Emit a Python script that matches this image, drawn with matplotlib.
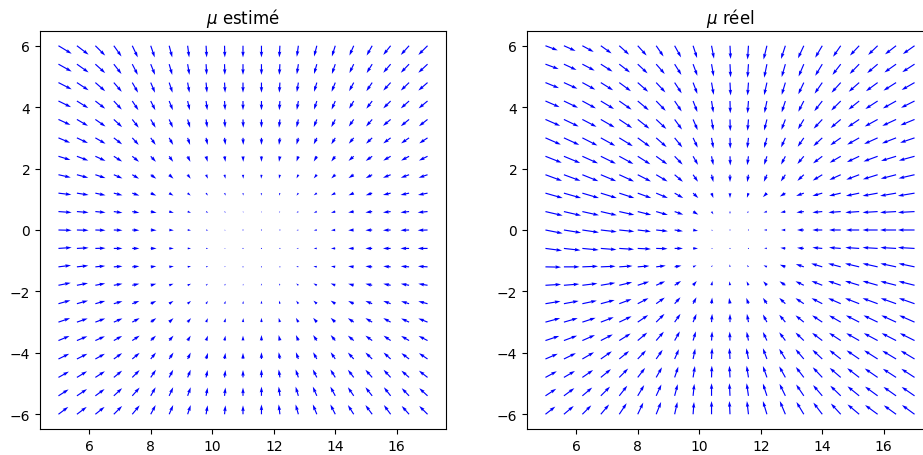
import numpy as np
import matplotlib.pyplot as plt

# grid of arrow positions
x_vals = [5.0, 5.6, 6.2, 6.8, 7.4, 8.0, 8.6, 9.2, 9.8, 10.4, 11.0,
          11.6, 12.2, 12.8, 13.4, 14.0, 14.6, 15.2, 15.8, 16.4, 17.0]
y_vals = [6.0, 5.4, 4.8, 4.2, 3.6, 3.0, 2.4, 1.8, 1.2, 0.6, 0.0,
          -0.6, -1.2, -1.8, -2.4, -3.0, -3.6, -4.2, -4.8, -5.4, -6.0]

# arrow components, in hundredths of a data unit
# rows go from y=6 (top) down to y=-6, columns from x=5 to x=17
u_est = [
    [43, 38, 32, 25, 18, 13, 10, 5, 2, 1, 0, 0, -2, -5, -9, -11, -14, -18, -24, -27, -30],
    [43, 38, 32, 25, 18, 14, 10, 6, 2, 1, 0, 0, -2, -5, -9, -11, -14, -18, -24, -27, -30],
    [43, 38, 32, 26, 19, 14, 11, 6, 3, 2, 0, 0, -2, -5, -9, -12, -15, -19, -24, -27, -30],
    [41, 37, 32, 26, 20, 15, 12, 7, 4, 2, 0, 0, -2, -5, -9, -12, -15, -19, -24, -27, -29],
    [39, 36, 33, 27, 21, 16, 12, 8, 4, 2, 1, 0, -3, -6, -10, -13, -16, -20, -25, -27, -28],
    [38, 36, 33, 27, 21, 16, 13, 8, 5, 3, 1, 0, -3, -6, -10, -13, -16, -20, -24, -26, -27],
    [39, 37, 33, 27, 22, 17, 13, 9, 5, 3, 1, 0, -3, -6, -10, -13, -17, -21, -24, -26, -28],
    [40, 37, 33, 28, 22, 18, 14, 10, 6, 3, 1, -1, -3, -6, -10, -13, -17, -21, -25, -27, -29],
    [42, 38, 33, 28, 23, 18, 14, 10, 6, 4, 1, -1, -3, -6, -10, -14, -17, -21, -25, -28, -31],
    [43, 38, 33, 28, 23, 19, 15, 11, 7, 4, 1, -1, -3, -6, -10, -14, -18, -22, -25, -28, -32],
    [43, 38, 33, 28, 23, 19, 15, 11, 7, 4, 1, -1, -3, -6, -10, -14, -18, -22, -25, -28, -32],
    [43, 38, 33, 28, 23, 19, 15, 11, 7, 4, 1, -1, -3, -6, -10, -14, -18, -22, -25, -28, -32],
    [41, 37, 32, 28, 23, 18, 15, 11, 7, 4, 1, -1, -3, -7, -11, -14, -18, -22, -24, -27, -31],
    [40, 36, 32, 28, 23, 18, 14, 11, 6, 4, 1, -1, -3, -7, -11, -15, -18, -22, -24, -27, -30],
    [39, 36, 32, 28, 23, 18, 14, 11, 6, 4, 1, 0, -3, -7, -11, -15, -18, -22, -24, -26, -30],
    [38, 35, 32, 28, 24, 18, 14, 11, 6, 4, 1, 0, -4, -8, -12, -15, -19, -22, -24, -26, -30],
    [36, 34, 31, 27, 24, 17, 14, 10, 6, 3, 0, 0, -4, -8, -12, -15, -19, -22, -23, -26, -29],
    [35, 34, 31, 27, 24, 17, 14, 10, 6, 3, 0, 0, -4, -8, -12, -15, -19, -22, -23, -25, -28],
    [34, 33, 31, 27, 24, 17, 13, 10, 5, 3, 0, 0, -4, -9, -13, -16, -19, -22, -23, -25, -28],
    [33, 33, 30, 27, 24, 16, 13, 10, 5, 3, 0, 0, -4, -9, -13, -16, -19, -22, -22, -24, -27],
    [32, 32, 30, 27, 24, 16, 13, 10, 5, 3, 0, 0, -4, -9, -13, -16, -19, -22, -22, -24, -27],
]
v_est = [
    [-26, -29, -32, -35, -38, -38, -38, -38, -38, -38, -38, -38, -38, -36, -35, -35, -32, -32, -30, -30, -30],
    [-24, -27, -29, -32, -35, -35, -35, -35, -35, -35, -35, -35, -35, -33, -32, -32, -29, -29, -28, -28, -28],
    [-22, -25, -28, -30, -33, -33, -33, -33, -33, -33, -33, -33, -33, -31, -30, -30, -28, -28, -26, -26, -26],
    [-20, -23, -25, -28, -30, -30, -30, -30, -30, -30, -30, -30, -30, -29, -28, -28, -25, -25, -24, -24, -24],
    [-18, -21, -23, -25, -27, -27, -27, -27, -27, -27, -27, -27, -27, -26, -25, -25, -23, -23, -21, -22, -22],
    [-16, -17, -19, -21, -23, -23, -23, -23, -23, -23, -23, -23, -23, -22, -21, -21, -19, -19, -18, -18, -18],
    [-12, -14, -15, -17, -18, -18, -18, -18, -18, -18, -18, -18, -18, -17, -17, -17, -15, -15, -14, -14, -14],
    [-9, -10, -11, -12, -13, -13, -13, -13, -13, -13, -13, -13, -13, -12, -12, -12, -11, -11, -10, -10, -10],
    [-5, -6, -7, -7, -8, -8, -8, -8, -8, -8, -8, -8, -8, -8, -7, -7, -7, -7, -6, -6, -6],
    [-3, -3, -3, -4, -4, -4, -4, -4, -4, -4, -4, -4, -4, -4, -4, -4, -3, -3, -3, -3, -3],
    [-1, -1, -1, -1, -1, -1, -1, -1, -1, -1, -1, -1, -1, -1, -1, -1, -1, -1, -1, -1, -1],
    [3, 2, 1, 0, 0, 0, 0, 0, 0, 0, 0, 0, 0, 0, 0, 0, 0, 0, 0, 0, 0],
    [5, 4, 3, 2, 2, 2, 2, 2, 2, 2, 2, 2, 2, 2, 2, 2, 2, 2, 2, 2, 2],
    [8, 7, 6, 5, 5, 5, 5, 5, 5, 5, 5, 6, 6, 6, 6, 6, 5, 5, 5, 5, 5],
    [11, 10, 9, 8, 9, 9, 9, 9, 9, 9, 9, 10, 10, 10, 10, 10, 9, 9, 9, 8, 8],
    [13, 12, 12, 12, 13, 13, 13, 13, 13, 13, 13, 14, 14, 14, 14, 14, 13, 13, 13, 12, 12],
    [15, 14, 14, 15, 16, 16, 16, 16, 16, 16, 16, 18, 18, 18, 18, 18, 16, 16, 16, 15, 15],
    [17, 17, 17, 19, 20, 21, 21, 21, 20, 20, 20, 22, 22, 22, 22, 22, 21, 21, 21, 19, 19],
    [19, 20, 20, 22, 24, 25, 25, 25, 24, 24, 24, 26, 26, 26, 26, 26, 25, 25, 25, 22, 22],
    [21, 22, 22, 25, 27, 28, 28, 28, 27, 27, 27, 30, 30, 30, 30, 30, 28, 28, 28, 25, 25],
    [24, 24, 24, 27, 29, 30, 30, 30, 29, 29, 29, 32, 32, 32, 32, 32, 30, 30, 30, 27, 27],
]
u_real = [
    [40, 38, 37, 35, 32, 29, 24, 21, 13, 8, 2, -3, -11, -14, -19, -23, -25, -30, -31, -36, -38],
    [43, 41, 40, 38, 35, 32, 28, 22, 14, 7, 2, -3, -9, -12, -17, -23, -27, -31, -34, -38, -40],
    [44, 44, 42, 40, 38, 34, 30, 23, 14, 7, 2, -3, -9, -12, -18, -25, -30, -34, -38, -41, -42],
    [46, 46, 44, 43, 40, 36, 31, 23, 14, 6, 1, -3, -8, -12, -18, -26, -31, -35, -40, -43, -44],
    [48, 48, 46, 45, 42, 38, 33, 24, 15, 6, 1, -3, -9, -13, -19, -28, -33, -37, -42, -45, -46],
    [50, 50, 49, 47, 44, 40, 34, 25, 15, 6, 1, -4, -9, -14, -20, -29, -34, -39, -44, -46, -47],
    [53, 53, 51, 49, 46, 41, 36, 26, 16, 6, 1, -4, -9, -14, -21, -30, -36, -40, -46, -49, -51],
    [54, 54, 52, 50, 48, 43, 37, 27, 16, 6, 0, -4, -10, -15, -21, -31, -37, -42, -48, -50, -52],
    [56, 56, 54, 52, 49, 44, 38, 28, 17, 6, 0, -5, -13, -18, -25, -32, -38, -43, -49, -52, -54],
    [56, 56, 54, 52, 49, 44, 38, 28, 17, 6, 0, -5, -11, -16, -24, -32, -40, -45, -49, -52, -54],
    [56, 56, 54, 52, 49, 43, 38, 27, 16, 5, 0, -3, -10, -14, -22, -32, -38, -43, -49, -52, -54],
    [54, 54, 53, 51, 48, 43, 37, 27, 16, 5, 0, -3, -9, -16, -22, -32, -38, -45, -49, -51, -54],
    [51, 51, 51, 48, 43, 38, 31, 22, 11, 3, -1, -5, -11, -18, -26, -36, -41, -46, -49, -51, -52],
    [51, 50, 49, 47, 42, 37, 29, 21, 12, 3, -2, -6, -12, -19, -27, -35, -41, -46, -49, -51, -52],
    [49, 48, 47, 45, 40, 35, 28, 19, 11, 2, -3, -7, -13, -20, -27, -35, -41, -46, -49, -50, -51],
    [48, 45, 43, 42, 40, 34, 27, 19, 11, 2, 0, -5, -13, -20, -27, -33, -38, -43, -46, -48, -50],
    [45, 43, 41, 39, 37, 31, 25, 17, 9, 2, -1, -6, -13, -20, -27, -33, -38, -42, -45, -47, -48],
    [40, 39, 38, 36, 32, 27, 21, 14, 7, 2, -2, -7, -13, -20, -27, -32, -37, -41, -44, -45, -45],
    [37, 36, 35, 33, 29, 24, 19, 12, 6, 1, -2, -6, -13, -20, -26, -31, -36, -39, -42, -43, -43],
    [35, 34, 32, 30, 26, 21, 17, 10, 4, 0, -2, -6, -13, -19, -25, -30, -34, -38, -41, -41, -42],
    [32, 32, 29, 27, 24, 18, 16, 9, 3, 0, -2, -5, -13, -18, -24, -29, -32, -38, -41, -40, -41],
]
v_real = [
    [-15, -17, -20, -25, -29, -32, -35, -38, -40, -42, -43, -45, -45, -43, -41, -39, -36, -32, -30, -28, -27],
    [-16, -19, -21, -24, -27, -30, -32, -35, -38, -40, -43, -44, -44, -42, -40, -38, -35, -32, -29, -27, -26],
    [-18, -20, -23, -25, -28, -30, -32, -35, -37, -40, -42, -42, -41, -40, -38, -36, -33, -30, -28, -26, -24],
    [-20, -22, -24, -26, -28, -30, -32, -34, -36, -38, -40, -40, -39, -37, -35, -33, -31, -28, -26, -24, -22],
    [-21, -23, -24, -26, -28, -30, -31, -33, -35, -36, -38, -37, -36, -34, -32, -30, -28, -25, -23, -21, -19],
    [-22, -23, -25, -26, -27, -29, -30, -31, -32, -34, -35, -34, -33, -31, -29, -27, -24, -22, -20, -18, -16],
    [-21, -22, -23, -24, -25, -26, -26, -27, -28, -29, -30, -29, -28, -27, -25, -23, -21, -19, -17, -15, -14],
    [-20, -20, -21, -21, -22, -22, -22, -23, -23, -24, -24, -24, -23, -22, -20, -19, -17, -16, -15, -13, -12],
    [-16, -16, -16, -16, -16, -16, -16, -16, -16, -16, -16, -15, -13, -11, -9, -9, -9, -9, -9, -9, -9],
    [-13, -13, -12, -12, -11, -11, -11, -10, -10, -9, -8, -5, -3, -3, -3, -3, -3, -3, -3, -3, -3],
    [-11, -9, -8, -6, -5, -5, -4, -4, -3, -2, -2, -1, 0, 0, 0, 0, 0, 0, 0, 0, 0],
    [-7, -6, -5, -4, -3, -2, -1, 0, 0, 1, 2, 1, 1, 2, 2, 3, 3, 3, 3, 3, 3],
    [-1, 0, 2, 2, 3, 3, 4, 4, 5, 6, 8, 6, 5, 7, 9, 11, 11, 11, 11, 11, 11],
    [3, 4, 6, 8, 10, 12, 13, 14, 14, 14, 13, 13, 13, 13, 13, 14, 14, 14, 14, 13, 13],
    [8, 9, 10, 12, 15, 18, 20, 21, 21, 20, 19, 19, 19, 19, 18, 18, 18, 18, 18, 18, 18],
    [13, 13, 14, 16, 19, 23, 27, 27, 27, 27, 27, 27, 25, 24, 22, 22, 22, 22, 22, 22, 22],
    [15, 16, 18, 20, 23, 26, 29, 30, 30, 30, 29, 29, 28, 27, 26, 25, 25, 24, 24, 24, 24],
    [17, 19, 22, 25, 26, 28, 30, 32, 34, 36, 36, 35, 35, 33, 32, 30, 29, 28, 28, 27, 27],
    [20, 21, 24, 27, 29, 31, 33, 35, 37, 38, 38, 38, 37, 36, 34, 33, 31, 30, 29, 28, 28],
    [23, 25, 27, 30, 33, 35, 37, 38, 39, 41, 41, 41, 40, 39, 37, 35, 33, 31, 30, 29, 29],
    [25, 27, 29, 32, 36, 38, 40, 40, 40, 43, 43, 43, 43, 43, 40, 38, 35, 32, 30, 29, 30],
]

X, Y = np.meshgrid(x_vals, y_vals)

fig = plt.figure(figsize=(9.23, 4.56), dpi=100)
ax1 = fig.add_axes([40 / 923, 26 / 456, 406 / 923, 398 / 456])
ax2 = fig.add_axes([527 / 923, 26 / 456, 406 / 923, 398 / 456])

panels = [(ax1, u_est, v_est, r"$\mu$ estimé"),
          (ax2, u_real, v_real, r"$\mu$ réel")]
for ax, u, v, title in panels:
    ax.quiver(X, Y, np.array(u) / 100, np.array(v) / 100, color="blue",
              angles="xy", scale_units="xy", scale=1)
    ax.set_xlim(4.4, 17.6)
    ax.set_ylim(-6.48, 6.48)
    ax.set_xticks([6, 8, 10, 12, 14, 16])
    ax.set_yticks([-6, -4, -2, 0, 2, 4, 6])
    ax.set_title(title)

fig.savefig("out.png", dpi=100)
